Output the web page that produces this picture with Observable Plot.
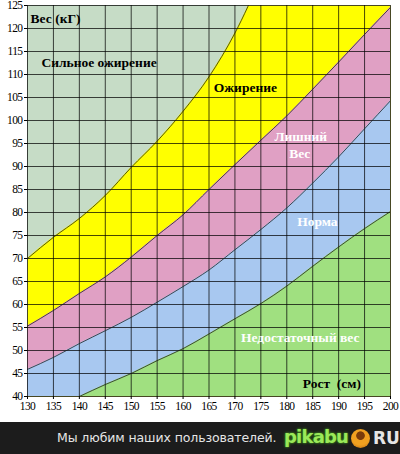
<!DOCTYPE html>
<html>
<head>
<meta charset="utf-8">
<script src="https://cdn.jsdelivr.net/npm/d3@7"></script>
<script src="https://cdn.jsdelivr.net/npm/@observablehq/plot@0.6"></script>
<style>
  html, body { margin: 0; padding: 0; background: #fff; }
  #chart svg { display: block; }
  #chart svg g[aria-label="x-axis tick label"] text, #chart svg g[aria-label="y-axis tick label"] text { letter-spacing: -0.6px; }
  #footer {
    width: 400px; height: 32px; background: #1c1c1c; position: relative;
    font-family: "DejaVu Sans", sans-serif; color: #e6e6e6;
  }
  #footer .msg { position: absolute; left: 57px; top: 8px; font-size: 12.5px; letter-spacing: -0.1px; }
  #footer .logo { position: absolute; left: 284px; top: 4px; font-family: "DejaVu Sans", sans-serif; font-weight: bold; font-size: 18px; color: #9be85a; text-shadow: 0 0 3px #3c8a1a, 0 0 2px #3c8a1a; letter-spacing: -0.8px; }
  #footer .ball { position: absolute; left: 351px; top: 7px; width: 19px; height: 19px; border-radius: 50%; background: radial-gradient(circle at 50% 35%, #7a3b0a 0 25%, #f0a020 30% 60%, #b06010 100%); }
  #footer .ru { position: absolute; left: 373px; top: 6px; font-size: 17px; font-weight: bold; color: #e6e6e6; }
</style>
</head>
<body>
<div id="chart"></div>
<div id="footer"><span class="msg">Мы любим наших пользователей.</span><span class="logo">pikabu</span><span class="ball"></span><span class="ru">RU</span></div>
<script>
// Heights (cm) and boundary weights (kg)
const heights = [130,135,140,145,150,155,160,165,170,175,180,185,190,195,200];
const severeHeights = [130,135,140,145,150,155,160,165,170,175];
const severeLower = [70,74.6,78.7,83.7,89.8,95.5,102,109.5,119,131];       // severe obesity / obesity
const obeseLower = [55.3,58.7,62.4,66,70.3,75,79.5,85,90.4,95.7,101,106.8,112.7,118.7,124.6]; // obesity / overweight
const overLower = [45.9,48.5,51.5,54.3,57.2,60.5,63.9,67.5,71.9,76.3,81,86.4,92.1,98.2,104.3]; // overweight / normal
const underHeights = [140,145,150,155,160,165,170,175,180,185,190,195,200];
const normalLower = [40,42.6,45,47.8,50.4,53.6,56.9,60.2,64,68.3,72.5,76.5,80.2]; // normal / underweight

const xTicks = [130,135,140,145,150,155,160,165,170,175,180,185,190,195,200];
const yTicks = [40,45,50,55,60,65,70,75,80,85,90,95,100,105,110,115,120,125];

const labelTexts = ["Вес (кГ)", "Сильное ожирение", "Ожирение", "Лишний", "Вес", "Норма", "Недостаточный вес", "Рост\u00a0\u00a0(см)"];
const labelX = [130.6, 143.8, 172, 182.7, 182.5, 185.9, 182.6, 188.7];
const labelY = [122.2, 112.6, 107.2, 96.4, 92.8, 78, 52.7, 42.8];
const labelColor = ["#000", "#000", "#000", "#fff", "#fff", "#fff", "#fff", "#000"];
const labelAnchor = ["start", "middle", "middle", "middle", "middle", "middle", "middle", "middle"];

const colors = {severe: "#c6dcc6", obese: "#ffff00", over: "#e0a0c4", normal: "#a8c8f0", under: "#a0e080"};

const main = heights.map((h, i) => ({h, obese: obeseLower[i], over: overLower[i]}));
const severe = severeHeights.map((h, i) => ({h, w: severeLower[i]}));
const under = underHeights.map((h, i) => ({h, w: normalLower[i]}));
const labels = labelTexts.map((t, i) => ({t, x: labelX[i], y: labelY[i], c: labelColor[i], a: labelAnchor[i]}));

const curve = "monotone-x";
const lineStyle = {stroke: "#1a1a1a", strokeOpacity: 0.75, strokeWidth: 1, curve, clip: true};
const textStyle = {x: "x", y: "y", text: "t", fill: "c", fontSize: 13.5, fontWeight: "bold", fontFamily: "Liberation Serif, serif"};

const chart = Plot.plot({
  width: 400,
  height: 422,
  marginLeft: 27,
  marginRight: 10,
  marginTop: 5,
  marginBottom: 26,
  style: {fontFamily: "Liberation Serif, serif", background: "#fff"},
  x: {domain: [130, 200], axis: null},
  y: {domain: [40, 125], axis: null},
  marks: [
    Plot.frame({fill: colors.obese}),
    Plot.areaY(severe, {x: "h", y1: "w", y2: 125, fill: colors.severe, curve, clip: true}),
    Plot.areaY(main, {x: "h", y1: 40, y2: "obese", fill: colors.over, curve, clip: true}),
    Plot.areaY(main, {x: "h", y1: 40, y2: "over", fill: colors.normal, curve, clip: true}),
    Plot.areaY(under, {x: "h", y1: 40, y2: "w", fill: colors.under, curve, clip: true}),
    Plot.gridX(xTicks, {stroke: "#000", strokeOpacity: 0.72, strokeWidth: 1}),
    Plot.gridY(yTicks, {stroke: "#000", strokeOpacity: 0.72, strokeWidth: 1}),
    Plot.line(severe, {x: "h", y: "w", ...lineStyle}),
    Plot.line(main, {x: "h", y: "obese", ...lineStyle}),
    Plot.line(main, {x: "h", y: "over", ...lineStyle}),
    Plot.line(under, {x: "h", y: "w", ...lineStyle}),
    Plot.text(labels.filter(d => d.a === "start"), {...textStyle, textAnchor: "start"}),
    Plot.text(labels.filter(d => d.a === "middle"), {...textStyle, textAnchor: "middle"}),
    Plot.axisX(xTicks, {tickSize: 3, tickPadding: 2, fontSize: 11.5, label: null, stroke: "#000"}),
    Plot.axisY(yTicks, {tickSize: 3, tickPadding: 2, fontSize: 11.5, label: null, stroke: "#000"})
  ]
});
document.getElementById("chart").appendChild(chart);
</script>
</body>
</html>
